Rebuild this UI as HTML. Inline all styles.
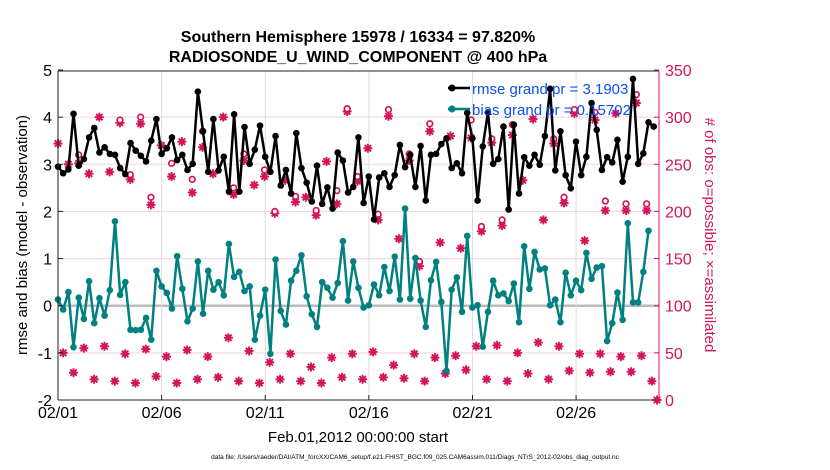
<!DOCTYPE html>
<html><head><meta charset="utf-8">
<style>
body{margin:0;background:#fff;}
svg{display:block;font-family:"Liberation Sans",Arial,sans-serif;}
</style></head>
<body>
<svg id="chart" width="830" height="470" viewBox="0 0 830 470">
<rect width="830" height="470" fill="#fff"/>
<text x="358" y="42" text-anchor="middle" font-size="16" font-weight="bold">Southern Hemisphere 15978 / 16334 = 97.820%</text>
<text x="358" y="62" text-anchor="middle" font-size="16" font-weight="bold">RADIOSONDE_U_WIND_COMPONENT @ 400 hPa</text>
<g id="grid"></g>
<g id="marks"></g>
<g id="axes"></g>
<text transform="translate(27,235) rotate(-90)" text-anchor="middle" font-size="15">rmse and bias (model - observation)</text>
<text transform="translate(705,235) rotate(90)" text-anchor="middle" font-size="15" fill="#d4145a"># of obs: o=possible; ×=assimilated</text>
<text x="358" y="442" text-anchor="middle" font-size="15">Feb.01,2012 00:00:00 start</text>
<text x="415" y="459" text-anchor="middle" font-size="6.5">data file: /Users/raeder/DAI/ATM_forcXX/CAM6_setup/f.e21.FHIST_BGC.f09_025.CAM6assim.011/Diags_NTrS_2012-02/obs_diag_output.nc</text>
<g>
<line x1="448" y1="88" x2="470" y2="88" stroke="#000" stroke-width="2.5"/>
<circle cx="452" cy="88" r="3.5" fill="#000"/>
<text x="472" y="94" font-size="15" fill="#0a50f5">rmse grand pr = 3.1903</text>
<line x1="448" y1="109" x2="470" y2="109" stroke="#008080" stroke-width="2.5"/>
<circle cx="452" cy="109" r="3.5" fill="#008080"/>
<text x="472" y="115" font-size="15" fill="#0a50f5">bias grand pr = 0.15702</text>
</g>
</svg>
<script>
const dateLabels=["02/01","02/06","02/11","02/16","02/21","02/26"];
const dateDays=[0,5,10,15,20,25];
const leftTicks=[-2,-1,0,1,2,3,4,5];
const rightTicks=[0,50,100,150,200,250,300,350];
const rmse=[2.95,2.81,2.89,4.07,2.97,3.11,3.57,3.77,3.25,3.36,3.22,3.20,2.92,2.79,3.45,3.29,3.18,3.06,3.50,3.96,3.22,3.34,3.57,3.09,3.20,2.88,3.01,4.54,3.70,2.84,3.96,2.87,3.16,2.42,4.06,2.42,3.79,3.01,3.31,3.82,
3.16,2.84,3.60,2.55,2.88,2.38,3.66,2.92,2.61,2.21,2.97,2.16,2.51,2.06,3.25,3.08,2.40,2.52,3.57,2.18,2.74,1.83,2.72,2.81,2.52,2.77,3.41,2.94,3.20,2.52,3.39,2.23,3.20,3.22,3.43,3.55,2.92,3.02,2.81,
4.09,3.55,2.23,3.38,4.10,3.01,3.11,3.80,2.04,3.84,2.38,3.15,2.97,3.20,2.99,3.60,4.60,2.87,3.70,2.77,2.49,3.48,2.77,3.16,4.30,3.73,2.88,3.15,3.04,3.52,2.63,3.16,4.81,3.01,3.23,3.89,3.80];
const bias=[0.13,-0.08,0.29,-0.88,0.17,-0.28,0.52,-0.37,0.16,-0.21,0.33,1.79,0.23,0.50,-0.51,-0.52,-0.51,-0.26,-0.72,0.74,0.41,0.27,-0.06,1.05,0.36,-0.33,-0.06,0.94,-0.17,0.74,0.34,0.50,0.22,1.31,0.61,0.72,0.31,0.41,-0.72,-0.21,
0.34,-1.02,0.98,-0.11,-0.40,0.53,0.74,1.07,0.20,-0.18,-0.45,0.50,0.38,0.17,0.48,1.37,0.11,0.94,0.38,-0.04,0.01,0.45,0.22,0.82,0.31,1.04,0.13,2.06,0.15,1.01,0.11,-0.45,0.54,0.93,0.08,-1.38,0.34,0.60,-0.13,
1.48,-0.04,0.01,-0.87,-0.13,0.53,0.22,0.26,0.10,0.47,-0.35,1.26,0.36,1.14,0.77,0.79,0.01,0.13,-0.35,0.70,0.22,0.53,0.33,1.12,0.57,0.81,0.84,-0.75,-0.37,0.28,-0.30,1.75,0.07,0.07,0.72,1.59];
const assimilated=[272,50,250,29,251,55,240,22,300,57,242,20,294,49,234,18,293,54,207,25,270,46,237,18,274,53,220,22,268,46,240,24,300,66,218,20,254,52,228,18,
237,40,198,22,233,49,210,20,215,35,196,18,253,45,208,24,306,49,232,22,267,51,191,24,301,37,171,23,254,49,142,20,285,45,167,28,280,47,161,
32,278,57,179,22,273,58,185,20,281,50,233,28,298,61,191,22,272,57,209,31,304,49,169,29,297,49,201,30,304,46,201,30,315,47,201,20,0];
const possible=[272,50,250,29,260,55,240,22,300,57,242,20,297,49,239,18,300,54,215,25,270,46,251,18,274,53,234,22,285,46,240,24,300,66,225,20,261,52,228,18,
244,40,200,22,233,49,216,20,215,35,201,18,253,45,222,24,309,49,237,22,267,51,197,24,308,37,171,23,261,49,147,20,293,45,167,28,280,47,161,
32,297,57,184,22,277,58,191,20,292,50,233,28,298,61,191,22,277,57,215,31,308,49,169,29,305,49,211,30,304,46,208,30,324,47,208,20,0];

const X0=58,X1=659,DAYS=29;
const xDay=d=>X0+d*(X1-X0)/DAYS;
const yL=v=>400-(v+2)*(330/7);
const yR=c=>400-c*(330/350);
const NS="http://www.w3.org/2000/svg";
function mk(tag,attrs,parent){const e=document.createElementNS(NS,tag);for(const k in attrs)e.setAttribute(k,attrs[k]);parent.appendChild(e);return e;}
const grid=document.getElementById('grid'),marks=document.getElementById('marks'),axes=document.getElementById('axes');

leftTicks.forEach(v=>{
 if(v===-2||v===5)return;
 const l=mk('line',{x1:X0,x2:X1,y1:yL(v),y2:yL(v),stroke:v===0?'#bbb':'#f3d3e0','stroke-width':v===0?2.5:1},grid);
 
 
});
dateDays.forEach((d,i)=>{
 if(i===0)return;
 const l=mk('line',{x1:xDay(d),x2:xDay(d),y1:71,y2:400,stroke:'#ddd','stroke-width':1},grid);
 
 
});

const nO=assimilated.length,oX=i=>58+i*(657-58)/(nO-1);
assimilated.forEach((c,i)=>{
 const x=oX(i),y=yR(c),g=mk('g',{stroke:'#d4145a','stroke-width':1.9},marks);
 
 
 mk('line',{x1:x-4.5,x2:x+4.5,y1:y,y2:y},g);mk('line',{x1:x,x2:x,y1:y-4.5,y2:y+4.5},g);
 mk('line',{x1:x-3.2,x2:x+3.2,y1:y-3.2,y2:y+3.2},g);mk('line',{x1:x-3.2,x2:x+3.2,y1:y+3.2,y2:y-3.2},g);
 mk('circle',{cx:x,cy:y,r:2.8,fill:'#d4145a',stroke:'none'},g);
});
possible.forEach((c,i)=>{
 if(c===assimilated[i])return;
 const e=mk('circle',{cx:oX(i),cy:yR(c),r:2.8,fill:'#fff',stroke:'#d4145a','stroke-width':1.7},marks);
 
 
});

function series(arr,color,name){
 const step=5.18;
 const pts=arr.map((v,i)=>(X0+i*step).toFixed(1)+','+yL(v).toFixed(1)).join(' ');
 const pl=mk('polyline',{points:pts,fill:'none',stroke:color,'stroke-width':2.5,'stroke-linejoin':'round'},marks);
 
 
 arr.forEach((v,i)=>{
  const c=mk('circle',{cx:X0+i*step,cy:yL(v),r:3.3,fill:color},marks);
  
  
 });
}
series(bias,'#008080','bias');
series(rmse,'#000','rmse');

let f=mk('line',{x1:X0,x2:X1,y1:71,y2:71,stroke:'#222','stroke-width':1},axes);

f=mk('line',{x1:X0,x2:X1,y1:400,y2:400,stroke:'#222','stroke-width':1},axes);

f=mk('line',{x1:X0,x2:X0,y1:71,y2:400,stroke:'#222','stroke-width':1},axes);

f=mk('line',{x1:X1,x2:X1,y1:71,y2:400,stroke:'#d4145a','stroke-width':1},axes);

leftTicks.forEach(v=>{
 const t=mk('text',{x:52,y:yL(v)+6,'text-anchor':'end','font-size':16},axes);t.textContent=v;
 
 
 mk('line',{x1:X0,x2:X0+5,y1:yL(v),y2:yL(v),stroke:'#222'},axes);
});
rightTicks.forEach(v=>{
 const t=mk('text',{x:665,y:yR(v)+6,'font-size':16,fill:'#d4145a'},axes);t.textContent=v;
 
 
 mk('line',{x1:X1-5,x2:X1,y1:yR(v),y2:yR(v),stroke:'#d4145a'},axes);
});
dateLabels.forEach((s,i)=>{
 const x=xDay(dateDays[i]);
 const t=mk('text',{x:x,y:418,'text-anchor':'middle','font-size':16},axes);t.textContent=s;
 
 
 mk('line',{x1:x,x2:x,y1:395,y2:400,stroke:'#222'},axes);
});
</script>
</body></html>
